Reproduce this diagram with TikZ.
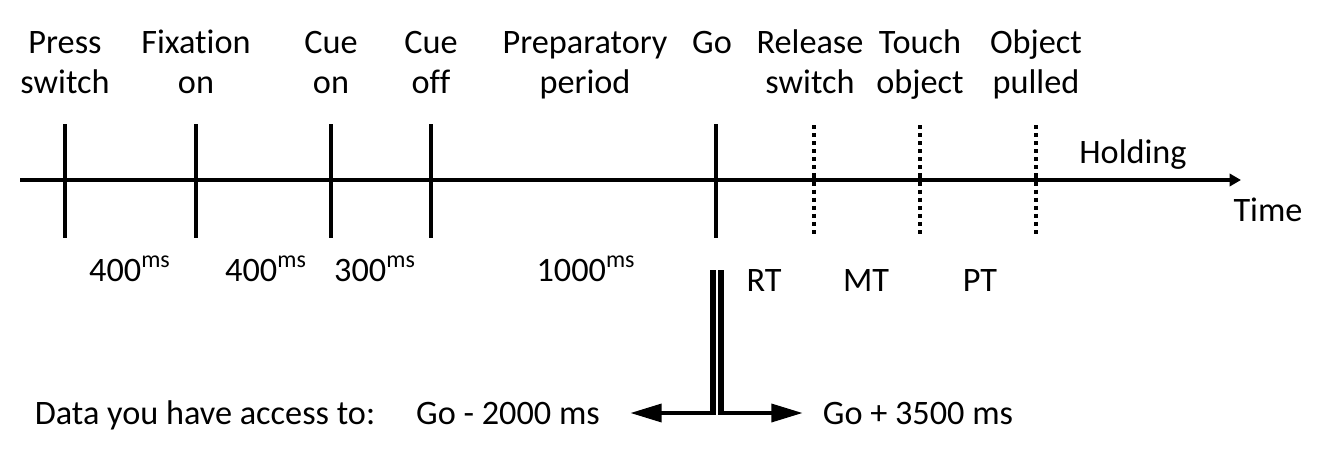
\documentclass[tikz,border=0pt]{standalone}
\usepackage{fontspec}
\setmainfont[Ligatures=NoCommon]{Carlito}
\usetikzlibrary{arrows.meta,positioning}
\tikzset{
  lbl/.style    = {align=center, font=\fontsize{19.5}{22.7}\selectfont, inner sep=0pt, anchor=base},
  evline/.style = {line width=2.3pt},
  evdot/.style  = {line width=2.3pt, dash pattern=on 2.3pt off 2.3pt},
  axis/.style   = {line width=2.3pt, -{Triangle[length=6.5pt, width=7pt]}},
  dline/.style  = {line width=3.2pt},
  acc/.style    = {line width=2.7pt, -{Triangle[length=18pt, width=10pt]}},
}
\newcommand{\dur}[1]{#1\textsuperscript{ms}}

\begin{document}
\begin{tikzpicture}[x=0.02cm, y=-0.02cm]
  \useasboundingbox (0,0) rectangle (1320,460);

  % time axis
  \coordinate (ax-s) at (20,180);
  \coordinate (ax-e) at (1241,180);
  \draw[axis] (ax-s) -- (ax-e);

  % events
  \foreach \x/\n in {65/press,196/fix,331/cueon,431/cueoff,716/go} {
    \coordinate (\n-t) at (\x,124);
    \coordinate (\n-b) at (\x,238);
    \draw[evline] (\n-t) -- (\n-b);
  }
  \foreach \x/\n in {814/rel,920/touch,1036/pull} {
    \coordinate (\n-t) at (\x,125);
    \coordinate (\n-b) at (\x,238);
    \draw[evdot] (\n-t) -- (\n-b);
  }

  % event labels (base = last line)
  \node[lbl] (l-press)  at (65,93)  {Press\\switch};
  \node[lbl] (l-fix)    at (196,93) {Fixation\\on};
  \node[lbl] (l-cueon)  at (331,93) {Cue\\on};
  \node[lbl] (l-cueoff) at (431,93) {Cue\\off};
  \node[lbl] (l-prep)   at (585,93) {Preparatory\\period};
  \node[lbl] (l-go)     at (712,53) {Go};
  \node[lbl] (l-rel)    at (810,93) {Release\\switch};
  \node[lbl] (l-touch)  at (920,93) {Touch\\object};
  \node[lbl] (l-pull)   at (1036,93) {Object\\pulled};

  \node[lbl] (hold) at (1133,163) {Holding};
  \node[lbl] (time) at (1268,221) {Time};

  % durations
  \node[lbl] (d1) at (130,281) {\dur{400}};
  \node[lbl] (d2) at (266,281) {\dur{400}};
  \node[lbl] (d3) at (375,281) {\dur{300}};
  \node[lbl] (d4) at (586,281) {\dur{1000}};
  \node[lbl] (rt) at (764,291) {RT};
  \node[lbl] (mt) at (866,291) {MT};
  \node[lbl] (pt) at (980,291) {PT};

  % data window
  \coordinate (dl-t) at (713,270);
  \coordinate (dl-b) at (713,413);
  \coordinate (dr-t) at (721,270);
  \coordinate (dr-b) at (721,413);
  \coordinate (dl-e) at (630,413);
  \coordinate (dr-e) at (803,413);
  \draw[dline] (dl-t) -- (dl-b);
  \draw[dline] (dr-t) -- (dr-b);
  \draw[acc] ([xshift=1.6pt]dl-b) -- (dl-e);
  \draw[acc] ([xshift=-1.6pt]dr-b) -- (dr-e);

  \node[lbl] (acc-lbl) at (205,424) {Data you have access to:};
  \node[lbl] (pre)     at (508,424) {Go - 2000 ms};
  \node[lbl] (post)    at (918,424) {Go + 3500 ms};
\end{tikzpicture}
\end{document}
